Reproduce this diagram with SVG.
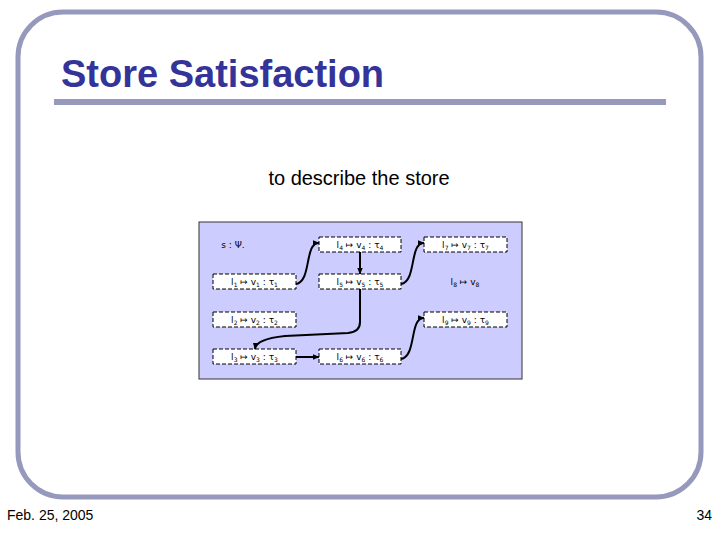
<svg xmlns="http://www.w3.org/2000/svg" width="720" height="540" viewBox="0 0 720 540">
<defs>
<marker id="ah" markerUnits="userSpaceOnUse" markerWidth="7" markerHeight="7" viewBox="0 0 10 10" refX="9" refY="5" orient="auto">
<path d="M0,1 L10,5 L0,9 Z" fill="#000"/>
</marker>
</defs>
<style>
.frame{fill:none;stroke:#9699BC;stroke-width:5}
.title{font-family:"Liberation Sans",Arial,sans-serif;font-weight:bold;font-size:38px;fill:#333399}
.foot{font-family:"Liberation Sans",Arial,sans-serif;font-size:14px;fill:#000}
.sub{font-family:"Liberation Sans",Arial,sans-serif;font-size:20px;fill:#000}
.box{fill:#fff;stroke:#000;stroke-width:1;stroke-dasharray:4 2}
.lbl{font-family:"DejaVu Sans",sans-serif;font-size:9px;fill:#000;text-anchor:middle}
.s{font-size:6px}
.edge{fill:none;stroke:#000;stroke-width:2;marker-end:url(#ah)}
</style>
<rect class="frame" x="18" y="12" width="683" height="485" rx="45" ry="45"/>
<text class="title" x="61" y="87">Store Satisfaction</text>
<rect x="54" y="99" width="612" height="6" fill="#9699BC"/>
<text class="sub" x="359" y="185" text-anchor="middle">to describe the store</text>
<text class="foot" x="7" y="520">Feb. 25, 2005</text>
<text class="foot" x="712" y="520" text-anchor="end">34</text>
<rect x="199" y="222" width="323" height="157" fill="#CCCCFF" stroke="#333" stroke-width="1"/>
<text class="lbl" x="233" y="248">s : Ψ.</text>
<g id="n1"><rect class="box" x="213" y="274" width="83" height="15"/><text class="lbl" x="254.5" y="285">l<tspan class="s" dy="2">1</tspan><tspan dy="-2"> ↦ v</tspan><tspan class="s" dy="2">1</tspan><tspan dy="-2"> : τ</tspan><tspan class="s" dy="2">1</tspan></text></g>
<g id="n2"><rect class="box" x="213" y="312" width="83" height="15"/><text class="lbl" x="254.5" y="323">l<tspan class="s" dy="2">2</tspan><tspan dy="-2"> ↦ v</tspan><tspan class="s" dy="2">2</tspan><tspan dy="-2"> : τ</tspan><tspan class="s" dy="2">2</tspan></text></g>
<g id="n3"><rect class="box" x="213" y="349" width="83" height="15"/><text class="lbl" x="254.5" y="360">l<tspan class="s" dy="2">3</tspan><tspan dy="-2"> ↦ v</tspan><tspan class="s" dy="2">3</tspan><tspan dy="-2"> : τ</tspan><tspan class="s" dy="2">3</tspan></text></g>
<g id="n4"><rect class="box" x="319" y="237" width="82" height="15"/><text class="lbl" x="360" y="248">l<tspan class="s" dy="2">4</tspan><tspan dy="-2"> ↦ v</tspan><tspan class="s" dy="2">4</tspan><tspan dy="-2"> : τ</tspan><tspan class="s" dy="2">4</tspan></text></g>
<g id="n5"><rect class="box" x="319" y="274" width="82" height="15"/><text class="lbl" x="360" y="285">l<tspan class="s" dy="2">5</tspan><tspan dy="-2"> ↦ v</tspan><tspan class="s" dy="2">5</tspan><tspan dy="-2"> : τ</tspan><tspan class="s" dy="2">5</tspan></text></g>
<g id="n6"><rect class="box" x="319" y="349" width="82" height="15"/><text class="lbl" x="360" y="360">l<tspan class="s" dy="2">6</tspan><tspan dy="-2"> ↦ v</tspan><tspan class="s" dy="2">6</tspan><tspan dy="-2"> : τ</tspan><tspan class="s" dy="2">6</tspan></text></g>
<g id="n7"><rect class="box" x="424" y="237" width="83" height="15"/><text class="lbl" x="465.5" y="248">l<tspan class="s" dy="2">7</tspan><tspan dy="-2"> ↦ v</tspan><tspan class="s" dy="2">7</tspan><tspan dy="-2"> : τ</tspan><tspan class="s" dy="2">7</tspan></text></g>
<g id="n8"><text class="lbl" x="465" y="285">l<tspan class="s" dy="2">8</tspan><tspan dy="-2"> ↦ v</tspan><tspan class="s" dy="2">8</tspan></text></g>
<g id="n9"><rect class="box" x="424" y="312" width="83" height="15"/><text class="lbl" x="465.5" y="323">l<tspan class="s" dy="2">9</tspan><tspan dy="-2"> ↦ v</tspan><tspan class="s" dy="2">9</tspan><tspan dy="-2"> : τ</tspan><tspan class="s" dy="2">9</tspan></text></g>
<g id="connectors">
<path class="edge" d="M296,284 C312,281 304,243 319,243"/>
<path class="edge" d="M360,252 L360,274"/>
<path class="edge" d="M401,284 C417,281 409,243 424,243"/>
<path class="edge" d="M360,289 L360,322 Q360,332 348,333 L285,336 Q256,339 255,349"/>
<path class="edge" d="M296,357 L319,357"/>
<path class="edge" d="M401,359 C417,356 409,318 424,318"/>
</g>
</svg>
